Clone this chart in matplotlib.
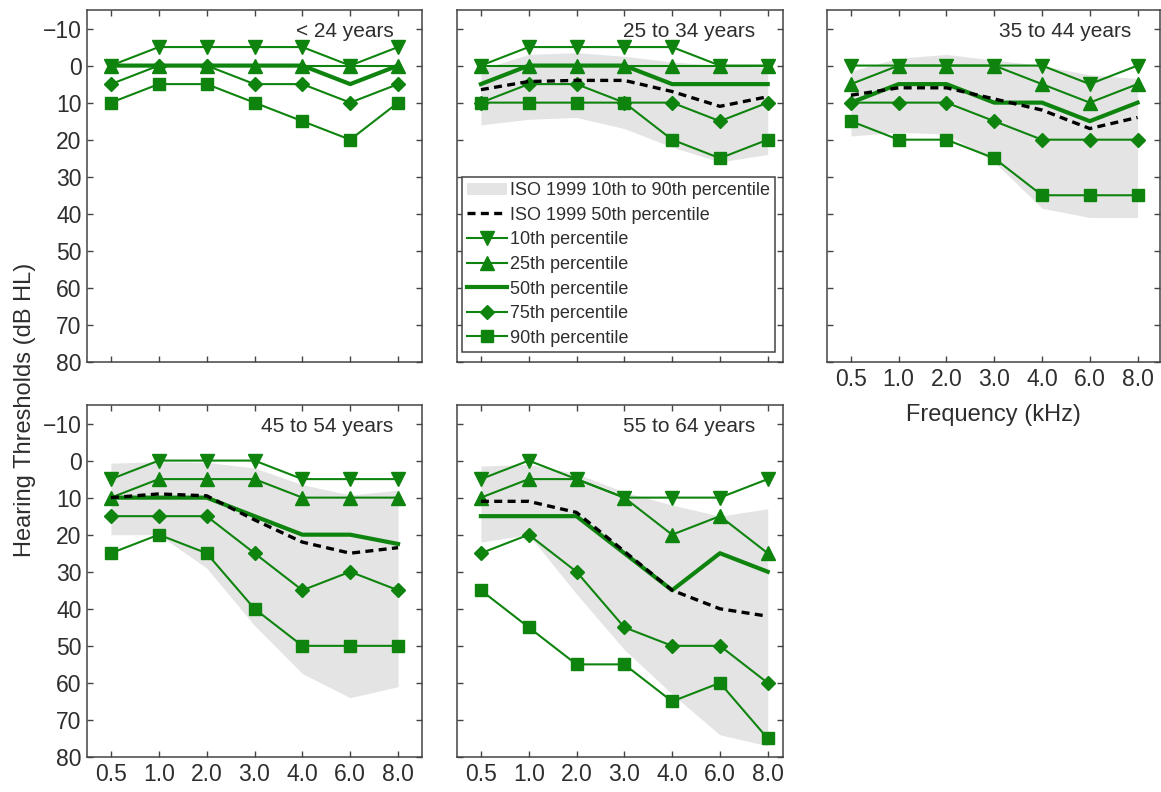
#!/usr/bin/env python3
"""Hearing thresholds by age group, compared with the ISO 1999 percentiles."""

import matplotlib

matplotlib.use("Agg")
import matplotlib.pyplot as plt
from matplotlib.patches import Patch

FREQ_LABELS = ["0.5", "1.0", "2.0", "3.0", "4.0", "6.0", "8.0"]
AGE_GROUPS = ["< 24 years", "25 to 34 years", "35 to 44 years", "45 to 54 years", "55 to 64 years"]

# measured percentiles (dB HL), one row per age group
P10 = [
    [0, -5, -5, -5, -5, 0, -5],
    [0, -5, -5, -5, -5, 0, 0],
    [0, 0, 0, 0, 0, 5, 0],
    [5, 0, 0, 0, 5, 5, 5],
    [5, 0, 5, 10, 10, 10, 5],
]
P25 = [
    [0, 0, 0, 0, 0, 0, 0],
    [0, 0, 0, 0, 0, 0, 0],
    [5, 0, 0, 0, 5, 10, 5],
    [10, 5, 5, 5, 10, 10, 10],
    [10, 5, 5, 10, 20, 15, 25],
]
P50 = [
    [0, 0, 0, 0, 0, 5, 0],
    [5, 0, 0, 0, 5, 5, 5],
    [10, 5, 5, 10, 10, 15, 10],
    [10, 10, 10, 15, 20, 20, 22.5],
    [15, 15, 15, 25, 35, 25, 30],
]
P75 = [
    [5, 0, 0, 5, 5, 10, 5],
    [10, 5, 5, 10, 10, 15, 10],
    [10, 10, 10, 15, 20, 20, 20],
    [15, 15, 15, 25, 35, 30, 35],
    [25, 20, 30, 45, 50, 50, 60],
]
P90 = [
    [10, 5, 5, 10, 15, 20, 10],
    [10, 10, 10, 10, 20, 25, 20],
    [15, 20, 20, 25, 35, 35, 35],
    [25, 20, 25, 40, 50, 50, 50],
    [35, 45, 55, 55, 65, 60, 75],
]

# ISO 1999 reference (no reference for the youngest group)
ISO_P10 = [
    None,
    [1, -3, -3.5, -2.5, -1, 0, 0.5],
    [1.5, -2, -3, -1.5, 0, 2.5, 3.5],
    [0.7, 0.3, 0.5, 2, 6.5, 9.3, 8],
    [1.5, 1, 3.5, 8.5, 12, 15, 13],
]
ISO_P50 = [
    None,
    [6.5, 4.3, 4, 4, 7, 11, 8.4],
    [8, 6, 6, 9, 12, 17, 14],
    [10, 9, 9.5, 16, 22, 25, 23.5],
    [11, 11, 14, 24.5, 35, 40, 42],
]
ISO_P90 = [
    None,
    [16, 14.5, 14, 17, 22, 26, 24],
    [19, 18, 18.5, 26, 38.5, 41, 41],
    [20, 20, 29, 44.5, 57.5, 64, 61],
    [22, 20, 36, 51, 63, 74, 77],
]

GREEN = "#0e840e"
BAND = "#e4e4e4"
TEXT = "#2e2e2e"
SPINE = "#444444"

W, H = 1161, 792


def _rect(left, top, width, height):
    return [left / W, 1 - (top + height) / H, width / W, height / H]


# (rect, xmax, show y labels, show x labels)
PANELS = [
    (_rect(87, 10, 335, 352), 6.5, True, False),
    (_rect(457, 10, 326, 352), 6.32, False, False),
    (_rect(827, 10, 333, 352), 6.47, False, True),
    (_rect(87, 405, 335, 352), 6.5, True, True),
    (_rect(457, 405, 326, 352), 6.32, False, True),
]

SERIES = [
    (P10, "10th percentile", dict(marker="v", ms=9.5, lw=1.5)),
    (P25, "25th percentile", dict(marker="^", ms=9.5, lw=1.5)),
    (P50, "50th percentile", dict(marker=None, lw=3.0)),
    (P75, "75th percentile", dict(marker="D", ms=7, lw=1.5)),
    (P90, "90th percentile", dict(marker="s", ms=8, lw=1.5)),
]

plt.rcParams["font.family"] = ["Liberation Sans", "DejaVu Sans"]

fig = plt.figure(figsize=(W / 100, H / 100), dpi=100)
x = list(range(len(FREQ_LABELS)))

for i, (rect, xmax, ylab, xlab) in enumerate(PANELS):
    ax = fig.add_axes(rect)
    handles = []
    if ISO_P10[i] is not None:
        ax.fill_between(x, ISO_P10[i], ISO_P90[i], color=BAND, lw=0, zorder=1)
        handles.append(Patch(facecolor=BAND, edgecolor="none", label="ISO 1999 10th to 90th percentile"))
    line_handles = []
    for data, label, style in SERIES:
        (ln,) = ax.plot(
            x,
            data[i],
            color=GREEN,
            markerfacecolor=GREEN,
            markeredgecolor=GREEN,
            label=label,
            zorder=3,
            **style,
        )
        line_handles.append(ln)
    if ISO_P50[i] is not None:
        (dash,) = ax.plot(
            x, ISO_P50[i], color="black", lw=2.4, linestyle=(0, (2.4, 1.6)),
            label="ISO 1999 50th percentile", zorder=4,
        )
        handles.append(dash)
    handles += line_handles

    ax.set_xlim(-0.5, xmax)
    ax.set_ylim(80, -15)
    ax.set_xticks(x)
    ax.set_yticks(range(-10, 81, 10))
    ax.set_xticklabels(FREQ_LABELS if xlab else [])
    if not ylab:
        ax.set_yticklabels([])
    ax.tick_params(direction="in", top=True, right=True, length=4, width=1,
                   labelsize=16.5, labelcolor=TEXT, color=SPINE, pad=4)
    for sp in ax.spines.values():
        sp.set_color(SPINE)
        sp.set_linewidth(1.1)

    ax.text(0.915, 0.94, AGE_GROUPS[i], transform=ax.transAxes, ha="right", va="center",
            fontsize=15, color=TEXT)

    if i == 1:
        leg = ax.legend(
            handles=handles, loc="lower left", bbox_to_anchor=(0.015, 0.028),
            borderaxespad=0, fontsize=13, handlelength=2.2, handletextpad=0.15,
            labelspacing=0.42, borderpad=0.3, fancybox=False, framealpha=1,
            edgecolor=SPINE,
        )
        leg.get_frame().set_linewidth(1.1)
        for t in leg.get_texts():
            t.set_color(TEXT)
    if i == 2:
        ax.set_xlabel("Frequency (kHz)", fontsize=17, color=TEXT, labelpad=10)

fig.text(25 / W, 1 - 410 / H, "Hearing Thresholds (dB HL)", rotation=90,
         ha="center", va="center", fontsize=17, color=TEXT)

fig.savefig("out.png", dpi=100)
